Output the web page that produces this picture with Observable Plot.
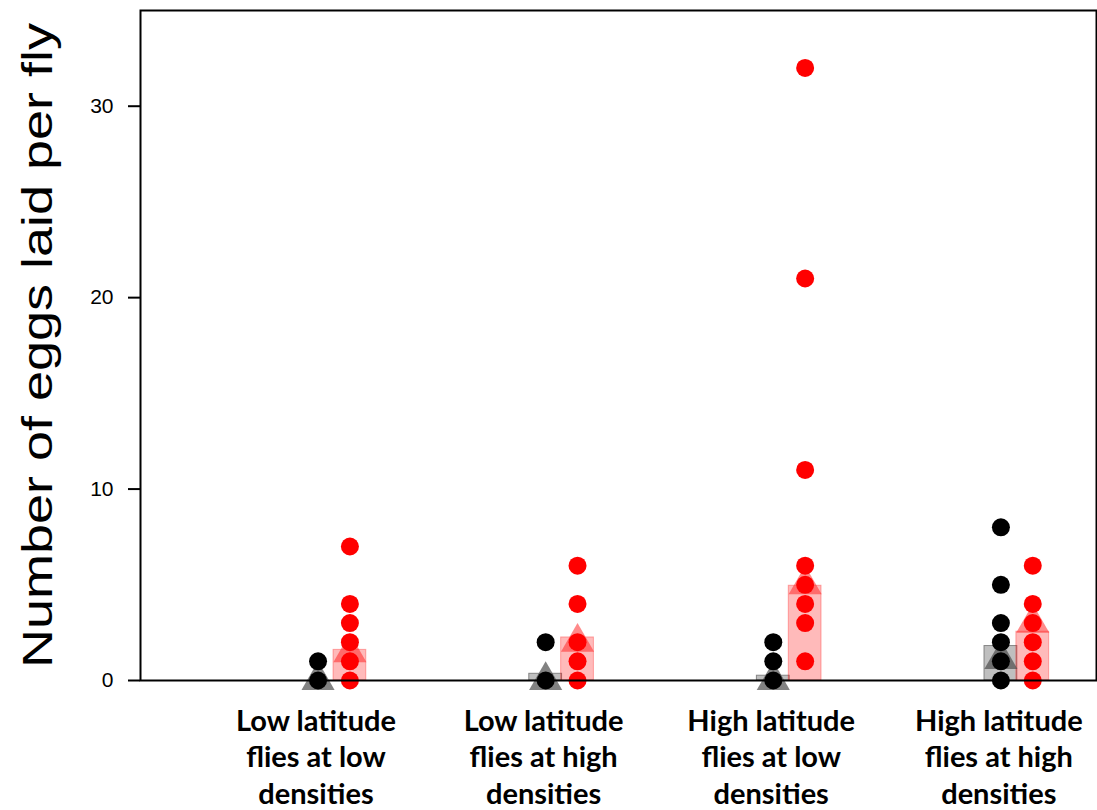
<!DOCTYPE html>
<html><head><meta charset="utf-8">
<script src="https://cdn.jsdelivr.net/npm/d3@7"></script>
<script src="https://cdn.jsdelivr.net/npm/@observablehq/plot@0.6"></script>
<style>body{margin:0;background:#fff}</style>
</head><body><div id="chart"></div>
<script>
const groups = [
  "Low latitude\nflies at low\ndensities",
  "Low latitude\nflies at high\ndensities",
  "High latitude\nflies at low\ndensities",
  "High latitude\nflies at high\ndensities"
];
const blackPoints = [[1, 0], [2, 0], [2, 1, 0], [8, 5, 3, 2, 1, 0]];
const redPoints = [[7, 4, 3, 2, 1, 0], [6, 4, 2, 1, 0], [32, 21, 11, 6, 5, 4, 3, 1], [6, 4, 3, 2, 1, 0]];
const blackBar = [0, 0.35, 0.25, 1.8];
const redBar = [1.6, 2.25, 4.95, 2.55];
const blackTri = [0, 0, 0, 1.1];
const redTri = [1.45, 2.0, 5.0, 3.0];
const yTicks = [0, 10, 20, 30];
const yLabel = "Number of eggs laid per fly";

const off = 0.07, half = 0.072;
const series = [
  {key: "black", pts: blackPoints, bar: blackBar, tri: blackTri, side: -1},
  {key: "red", pts: redPoints, bar: redBar, tri: redTri, side: 1}
];
const dots = [], bars = [], tris = [];
for (const s of series) {
  groups.forEach((g, i) => {
    const x = i + 1 + s.side * off;
    s.pts[i].forEach(v => dots.push({x, y: v, key: s.key}));
    bars.push({x1: x - half, x2: x + half, y: s.bar[i], key: s.key});
    tris.push({x, y: s.tri[i], key: s.key});
  });
}
const barFill = {black: "#808080", red: "#ff0000"};
const triFill = {black: "#4d4d4d", red: "#ff2a2a"};

const chart = Plot.plot({
  width: 1097, height: 810,
  marginLeft: 140, marginRight: 1, marginTop: 10, marginBottom: 130,
  style: {fontFamily: "'Liberation Sans', Arial, sans-serif", fontSize: "21px", background: "#fff", color: "#000"},
  x: {domain: [0.15, 4.35]},
  y: {domain: [0, 35]},
  marks: [
    Plot.rectY(bars.filter(d => d.key === "black"), {x1: "x1", x2: "x2", y: "y", fill: barFill.black, fillOpacity: 0.5, stroke: "#707070", strokeOpacity: 0.8, strokeWidth: 1}),
    Plot.rectY(bars.filter(d => d.key === "red"), {x1: "x1", x2: "x2", y: "y", fill: barFill.red, fillOpacity: 0.27, stroke: "#ff0000", strokeOpacity: 0.3, strokeWidth: 1}),
    Plot.dot(tris, {x: "x", y: "y", symbol: "triangle", r: 12.3, fill: d => triFill[d.key], fillOpacity: d => d.key === "red" ? 0.55 : 0.7, stroke: "none"}),
    Plot.dot(dots, {x: "x", y: "y", r: 9, fill: d => d.key === "red" ? "#ff0000" : "#000000", stroke: "none"}),
    Plot.frame({stroke: "#000", strokeWidth: 2}),
    Plot.axisY({ticks: yTicks, tickSize: 12, tickPadding: 15, strokeWidth: 2, fontSize: 21,
      label: yLabel, labelAnchor: "center", labelArrow: "none", labelOffset: 118}),
    Plot.axisX({ticks: [1, 2, 3, 4], tickFormat: d => groups[d - 1], tickSize: 0, tickPadding: 24,
      fontSize: 29, fontWeight: "bold", fontFamily: "Lato, 'Open Sans', sans-serif", lineHeight: 1.27, dx: -18, label: null})
  ]
});
document.getElementById("chart").appendChild(chart);
// stretch the y-axis title along its length like the reference
const lab = chart.querySelector('g[aria-label="y-axis label"] text');
if (lab) {
  lab.style.fontSize = "42px";
  lab.setAttribute("textLength", "645");
  lab.setAttribute("lengthAdjust", "spacingAndGlyphs");
}
</script>
</body></html>
